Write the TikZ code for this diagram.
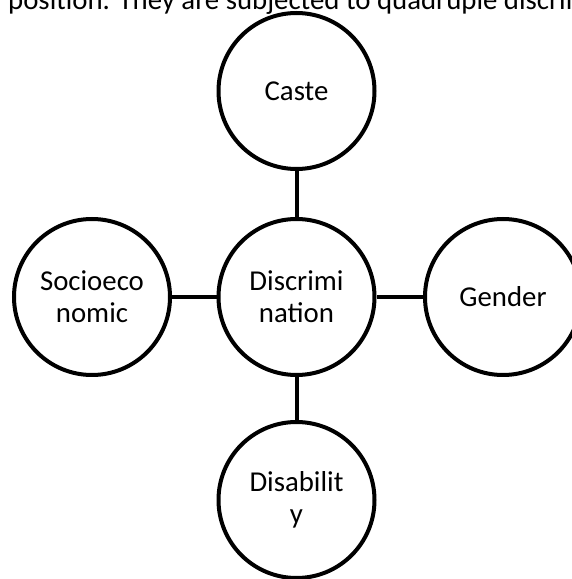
\documentclass[tikz,border=0pt]{standalone}
\usepackage{fontspec}
\setmainfont{Carlito}
\begin{document}
\begin{tikzpicture}[x=1pt,y=1pt,
  bubble/.style={circle,draw=black,line width=4pt,minimum size=156pt,inner sep=0pt,
    align=center,font=\fontsize{28.8}{32}\selectfont,fill=white},
  link/.style={line width=4pt,draw=black}]
\useasboundingbox (0,0) rectangle (572,579);
\clip (0,0) rectangle (572,579);
\fill[white] (0,0) rectangle (572,579);
\node[anchor=base west,inner sep=0pt,font=\fontsize{28.8}{32}\selectfont] (top) at (8,569.5)
  {position. They are subjected to quadruple discrimination};
\node[bubble] (caste) at (296.5,488) {Caste};
\node[bubble] (disc) at (296.5,282) {Discrimi\\nation};
\node[bubble] (socio) at (92,282) {Socioeco\\nomic};
\node[bubble] (gender) at (503,282) {Gender};
\node[bubble] (dis) at (296.5,79) {Disabilit\\y};
\draw[link] (caste) -- (disc);
\draw[link] (socio) -- (disc);
\draw[link] (disc) -- (gender);
\draw[link] (disc) -- (dis);
\end{tikzpicture}
\end{document}
